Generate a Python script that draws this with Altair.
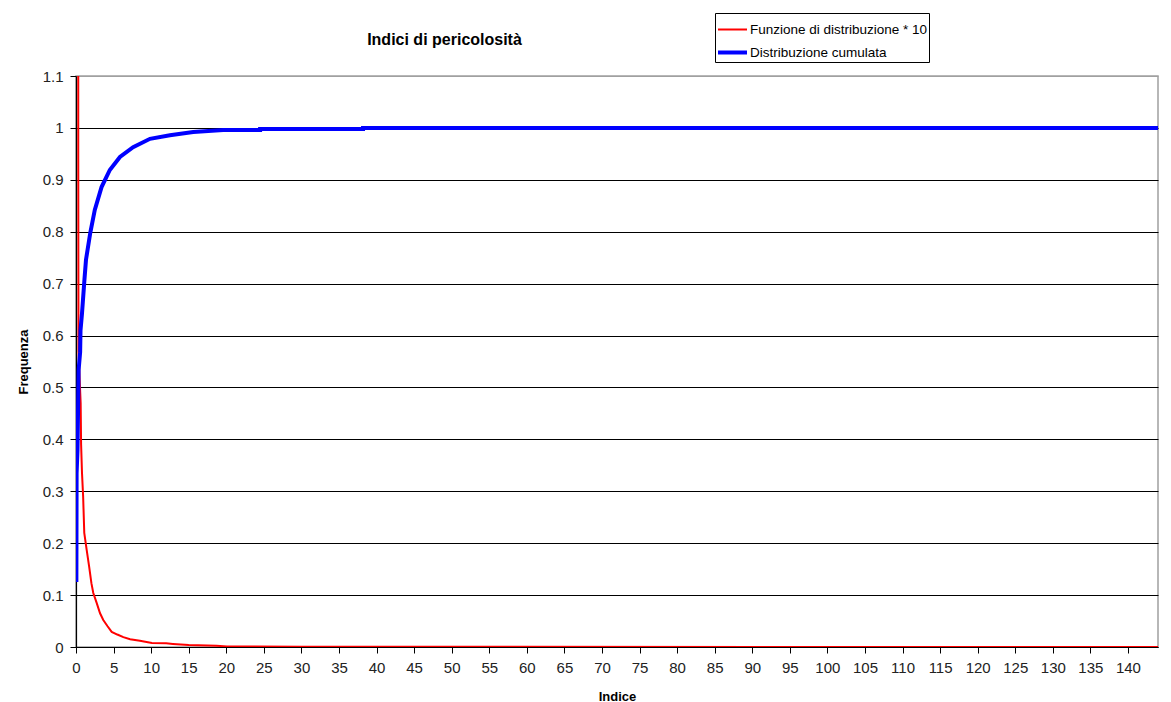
import altair as alt
import pandas as pd

# Red series: distribution function * 10
red_x = [0.28, 0.30, 0.33, 0.62, 0.68, 0.80, 0.95, 1.10, 1.42, 1.75, 2.05, 2.30, 2.75,
         3.20, 3.63, 4.20, 4.75, 5.50, 6.30, 7.20, 8.50, 10.1, 12.0, 12.9, 15.0, 18.7,
         20.1, 30.0, 144.0]
red_y = [3.0, 0.94, 0.57, 0.47, 0.39, 0.335, 0.29, 0.22, 0.187, 0.155, 0.123, 0.104, 0.085,
         0.065, 0.052, 0.040, 0.029, 0.024, 0.019, 0.015, 0.012, 0.0077, 0.007, 0.006, 0.004,
         0.0025, 0.001, 0.0005, 0.0]

# Blue series: cumulative distribution
blue_x = [0.05, 0.08, 0.20, 0.35, 0.55, 0.60, 0.80, 1.12, 1.33, 1.90, 2.50, 3.40, 4.50,
          5.85, 7.60, 9.85, 12.5, 15.6, 19.6, 24.5, 24.5, 38.2, 38.2, 144.0]
blue_y = [0.125, 0.335, 0.38, 0.534, 0.568, 0.61, 0.643, 0.707, 0.746, 0.798, 0.842, 0.886,
          0.919, 0.944, 0.963, 0.979, 0.986, 0.992, 0.996, 0.996, 0.998, 0.998, 1.0, 1.0]

series_names = ["Funzione di distribuzione * 10", "Distribuzione cumulata"]
series_colors = ["#ff0000", "#0000ff"]
series_widths = [2, 4]

x_ticks = list(range(0, 145, 5))
y_ticks = [0, 0.1, 0.2, 0.3, 0.4, 0.5, 0.6, 0.7, 0.8, 0.9, 1.0, 1.1]

rows = []
for i, (x, y) in enumerate(zip(red_x, red_y)):
    rows.append({"Indice": x, "Frequenza": y, "serie": series_names[0], "ord": i})
for i, (x, y) in enumerate(zip(blue_x, blue_y)):
    rows.append({"Indice": x, "Frequenza": y, "serie": series_names[1], "ord": i})
df = pd.DataFrame(rows)

FONT = "Liberation Sans"

legend_opts = dict(title=None, orient="none", legendX=639, legendY=-63,
                   symbolType="stroke", symbolSize=841, labelFontSize=13.5,
                   labelOffset=1, rowPadding=-5, padding=1, labelLimit=400,
                   strokeColor="#000000", fillColor="#ffffff",
                   labelFont=FONT, labelColor="#000000")

chart = alt.Chart(df).mark_line(clip=True).encode(
    x=alt.X("Indice:Q",
            scale=alt.Scale(domain=[0, 144], nice=False, zero=False),
            axis=alt.Axis(values=x_ticks, grid=False, title="Indice",
                          titleFontWeight="bold", titleFontSize=13, titlePadding=15,
                          labelFontSize=15, labelPadding=7, tickSize=6,
                          labelFlush=False, labelOverlap=False)),
    y=alt.Y("Frequenza:Q",
            scale=alt.Scale(domain=[0, 1.1], nice=False),
            axis=alt.Axis(values=y_ticks, format="~g", grid=True, title="Frequenza",
                          titleFontWeight="bold", titleFontSize=13, titlePadding=12,
                          labelFontSize=15, labelPadding=7, tickSize=6,
                          gridColor={"condition": {"test": "datum.value > 1.05", "value": "#a0a0a0"},
                                     "value": "#000000"})),
    color=alt.Color("serie:N",
                    scale=alt.Scale(domain=series_names, range=series_colors),
                    legend=alt.Legend(**legend_opts)),
    strokeWidth=alt.StrokeWidth("serie:N",
                                scale=alt.Scale(domain=series_names, range=series_widths),
                                legend=alt.Legend(**legend_opts)),
    order="ord:Q",
).properties(
    width=1082,
    height=571,
    title=alt.TitleParams("Indici di pericolosità", anchor="start", dx=350, offset=0, dy=48,
                          baseline="alphabetic", fontSize=16, fontWeight="bold", font=FONT,
                          color="#000000"),
    autosize=alt.AutoSizeParams(type="none"),
    padding={"left": 68, "top": 68, "right": 5, "bottom": 60},
    background="#ffffff",
).configure_view(
    stroke="#a0a0a0", strokeWidth=1.5
).configure_axis(
    domainColor="#000000", tickColor="#000000", labelColor="#222222", titleColor="#000000",
    labelFont=FONT, titleFont=FONT, gridWidth=1, domainWidth=1.2
)

chart.save("out.html", embed_options={"renderer": "svg", "actions": False})
